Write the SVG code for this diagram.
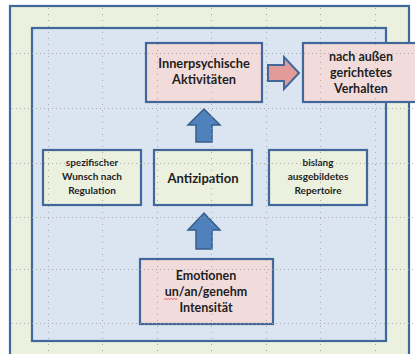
<svg xmlns="http://www.w3.org/2000/svg" width="415" height="354" viewBox="0 0 415 354">
<style>
.box{stroke:#41679b;stroke-width:2.2}
.pink{fill:#f2dcdb}
.green{fill:#ebf1de}
.t{font-family:Lato,"Liberation Sans",sans-serif;font-weight:bold;fill:#1e1e1e;text-anchor:middle}
.gh{stroke:#a0a0a0;stroke-width:1;stroke-dasharray:1 3}
.gv{stroke:#a0a0a0;stroke-width:1;stroke-dasharray:1 5}
</style>
<rect width="415" height="354" fill="#fff"/>
<g id="outer-frame">
<rect x="10" y="6" width="399" height="360" fill="#ebf1de" class="box"/>
</g>
<g id="inner-frame">
<rect x="32" y="28" width="354" height="313" fill="#dbe5f1" class="box"/>
</g>
<g id="connectors">
<path d="M268,65 H284 V57 L299,73 L284,89 V81 H268 Z" fill="#e29b99" stroke="#41679b" stroke-width="2"/>
<path d="M196,142 V125 H188 L204,109 L220,125 H212 V142 Z" fill="#4f81bd" stroke="#385d8a" stroke-width="1.5"/>
<path d="M196,249 V230 H188 L204,213 L220,230 H212 V249 Z" fill="#4f81bd" stroke="#385d8a" stroke-width="1.5"/>
</g>
<g id="node-innerpsychische">
<rect x="146" y="43" width="116" height="59" class="box pink"/>
<text class="t" x="204" y="68" font-size="12.8">Innerpsychische</text>
<text class="t" x="204" y="84" font-size="12.8">Aktivitäten</text>
</g>
<g id="node-verhalten">
<rect x="303" y="43" width="120" height="59" class="box pink"/>
<text class="t" x="361" y="61" font-size="12.5">nach außen</text>
<text class="t" x="361" y="77" font-size="12.5">gerichtetes</text>
<text class="t" x="361" y="93" font-size="12.5">Verhalten</text>
</g>
<g id="node-wunsch">
<rect x="43" y="150" width="98" height="55" class="box green"/>
<text class="t" x="92" y="166" font-size="10">spezifischer</text>
<text class="t" x="92" y="180" font-size="10">Wunsch nach</text>
<text class="t" x="92" y="194" font-size="10">Regulation</text>
</g>
<g id="node-antizipation">
<rect x="154" y="150" width="98" height="55" class="box green"/>
<text class="t" x="203" y="182.5" font-size="13">Antizipation</text>
</g>
<g id="node-repertoire">
<rect x="269" y="150" width="98" height="55" class="box green"/>
<text class="t" x="318" y="166" font-size="10">bislang</text>
<text class="t" x="318" y="180" font-size="10">ausgebildetes</text>
<text class="t" x="318" y="194" font-size="10">Repertoire</text>
</g>
<g id="node-emotionen">
<rect x="140" y="259" width="133" height="65" class="box pink"/>
<text class="t" x="206" y="280" font-size="12.5">Emotionen</text>
<text class="t" x="206" y="296" font-size="12.5">un/an/genehm</text>
<text class="t" x="206" y="312" font-size="12.5">Intensität</text>
<path d="M164,299.5 l1.5,-1 l1.5,1 l1.5,-1 l1.5,1 l1.5,-1 l1.5,1 l1.5,-1 l1.5,1 l1.5,-1" fill="none" stroke="#e04040" stroke-width="0.8"/>
</g>
<g id="grid" opacity="0.85">
<path class="gh" d="M12,53.5 H413 M12,108.5 H413 M12,163.5 H413 M12,217.5 H413 M12,269.5 H413 M12,323.5 H413"/>
<path class="gv" d="M48.5,8 V354 M102.5,8 V354 M157.5,8 V354 M211.5,8 V354 M266.5,8 V354 M320.5,8 V354 M375.5,8 V354"/>
</g>
</svg>
